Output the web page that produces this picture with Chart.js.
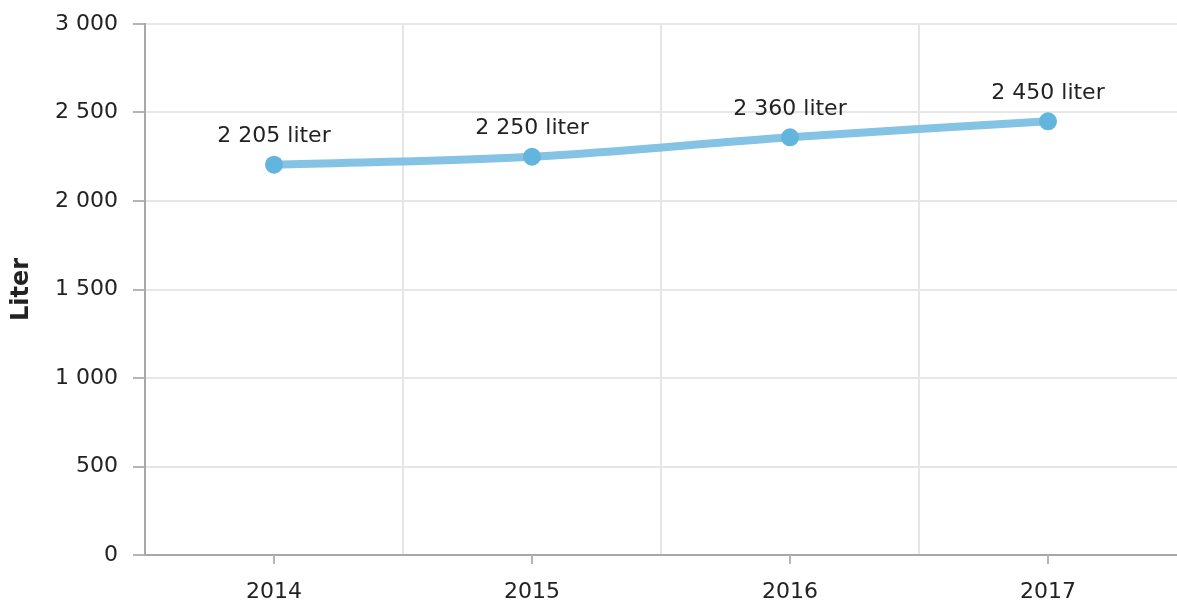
<!DOCTYPE html>
<html>
<head>
<meta charset="utf-8">
<script src="https://cdn.jsdelivr.net/npm/chart.js@4"></script>
<style>
  html, body { margin: 0; padding: 0; background: #fff; }
  #wrap { width: 1177px; height: 605px; }
</style>
</head>
<body>
<div id="wrap"><canvas id="myChart-liter"></canvas></div>
<script>
// Data
const years = ['2014', '2015', '2016', '2017'];
const liters = [2205, 2250, 2360, 2450];
const unit = 'liter';

function spaced(v) {
    return String(v).replace(/\B(?=(\d{3})+(?!\d))/g, ' ');
}

Chart.defaults.font.family = '"DejaVu Sans", Verdana, sans-serif';
Chart.defaults.font.size = 22;
Chart.defaults.color = '#222';

// labels above the points + tick marks under the categories
const pointLabels = {
    id: 'pointLabels',
    afterDatasetsDraw(chart) {
        const ctx = chart.ctx;
        const meta = chart.getDatasetMeta(0);
        ctx.save();
        ctx.font = '22px "DejaVu Sans", Verdana, sans-serif';
        ctx.fillStyle = '#222';
        ctx.textAlign = 'center';
        ctx.textBaseline = 'middle';
        meta.data.forEach((pt, i) => {
            ctx.fillText(spaced(liters[i]) + ' ' + unit, pt.x, pt.y - 28);
        });
        ctx.restore();
    },
    afterDraw(chart) {
        const ctx = chart.ctx;
        const xs = chart.scales.x;
        ctx.save();
        ctx.strokeStyle = '#b5b5b5';
        ctx.lineWidth = 2;
        years.forEach((y, i) => {
            const px = xs.getPixelForValue(i);
            ctx.beginPath();
            ctx.moveTo(px, xs.top);
            ctx.lineTo(px, xs.top + 9);
            ctx.stroke();
        });
        ctx.restore();
    }
};

new Chart(document.getElementById('myChart-liter'), {
    type: 'line',
    data: {
        labels: years,
        datasets: [{
            label: 'Liter',
            data: liters,
            borderColor: '#84c3e4',
            borderWidth: 8,
            tension: 0.35,
            pointRadius: 9,
            pointHoverRadius: 9,
            pointBackgroundColor: '#62b5dd',
            pointBorderWidth: 0
        }]
    },
    options: {
        responsive: true,
        maintainAspectRatio: false,
        animation: false,
        layout: {
            autoPadding: false,
            padding: { top: 24, right: 0, left: 0, bottom: 0 }
        },
        plugins: {
            legend: { display: false },
            tooltip: { enabled: false }
        },
        scales: {
            x: {
                offset: true,
                grid: {
                    offset: true,
                    color: (c) => c.type === 'tick' ? '#e6e6e6' : 'rgba(0,0,0,0)',
                    lineWidth: 2,
                    drawTicks: false
                },
                border: { color: '#a8a8a8', width: 2 },
                ticks: { padding: 24, color: '#222' },
                afterFit(scale) {
                    scale.height = 50;
                    scale.paddingLeft = 0;
                    scale.paddingRight = 0;
                }
            },
            y: {
                min: 0,
                max: 3000,
                ticks: {
                    stepSize: 500,
                    padding: 15,
                    color: '#222',
                    callback: (v) => spaced(v)
                },
                grid: {
                    color: '#e6e6e6',
                    lineWidth: 2,
                    tickLength: 12,
                    tickColor: '#b5b5b5'
                },
                border: { color: '#a8a8a8', width: 2 },
                title: {
                    display: true,
                    text: 'Liter',
                    font: { weight: 'bold', size: 24 },
                    color: '#222',
                    padding: { top: 7, bottom: 0 }
                },
                afterFit(scale) {
                    scale.width = 145;
                    scale.paddingTop = 0;
                    scale.paddingBottom = 0;
                }
            }
        }
    },
    plugins: [pointLabels]
});
</script>
</body>
</html>
